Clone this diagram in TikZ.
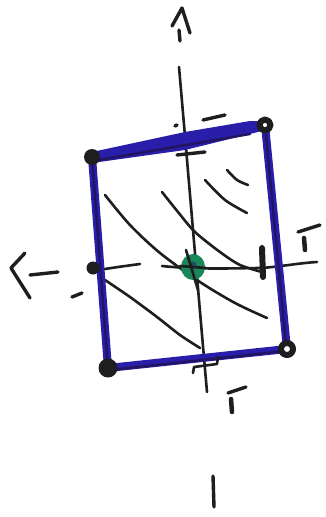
\documentclass[tikz,border=0pt]{standalone}
\begin{document}
\begin{tikzpicture}[x=1pt,y=-1pt,line cap=round,line join=round]
\definecolor{pen}{RGB}{30,30,30}
\definecolor{mblue}{RGB}{40,30,170}
\definecolor{mnavy}{RGB}{35,20,95}
\definecolor{mgreen}{RGB}{25,135,90}
\tikzset{
  penline/.style={draw=pen,line width=2.6pt},
  thickpen/.style={draw=pen,line width=3.4pt},
  blueedge/.style={draw=mblue,line width=8pt},
  bluecore/.style={draw=mnavy,line width=2.4pt},
  cornerdot/.style={fill=pen},
  ringdot/.style={draw=pen,line width=6pt,fill=white}
}
\fill[white] (0,0) rectangle (326,517);
\useasboundingbox (0,0) rectangle (326,517);
% corners
\coordinate (tl) at (92,157);
\coordinate (tr) at (265,125);
\coordinate (br) at (287,349);
\coordinate (bl) at (108,368);
\coordinate (lm) at (93,268);
% vertical axis
\draw[penline] (179,67) .. controls (188,170) and (198,290) .. (207,392);
% horizontal axis
\draw[penline] (93,271) .. controls (110,268) and (125,266) .. (140,264);
\draw[penline] (162,266) .. controls (200,270) and (240,268) .. (262,268) .. controls (285,266) and (300,263) .. (317,262);
% hatching curves
\draw[penline] plot[smooth] coordinates {(105,195) (130,225) (160,253) (200,282) (235,303) (267,318)};
\draw[penline] plot[smooth] coordinates {(162,192) (178,212) (195,232) (220,252) (240,265) (262,272)};
\draw[penline] plot[smooth] coordinates {(205,180) (225,200) (247,213)};
\draw[penline] plot[smooth] coordinates {(227,170) (237,180) (248,185)};
\draw[penline] plot[smooth] coordinates {(105,280) (130,297) (157,317) (180,335) (200,348)};
% blue rectangle
\fill[mblue] (92,152) -- (185,132) -- (250,121) -- (262,121) -- (262,131) -- (185,150) -- (92,163) -- cycle;
\draw[blueedge] (tr) -- (br);
\draw[blueedge] (br) -- (bl);
\draw[blueedge] (bl) -- (tl);
\draw[bluecore] (93,161) -- (250,134);
\draw[bluecore] (tl) -- (bl);
\draw[bluecore] (110,370) -- (285,351);
\draw[bluecore] (266,135) -- (286,345);
% green centre
\fill[mgreen] (193,267) ellipse [x radius=12,y radius=13];
\fill[mnavy!50!mgreen] (193,265) circle (3.5);
\draw[penline] (186,250) -- (198,290);
\draw[penline] (180,266) -- (206,268);
% corner dots
\fill[cornerdot] (tl) circle (8);
\fill[cornerdot] (bl) circle (9.5);
\fill[cornerdot] (lm) circle (6.5);
\draw[ringdot] (tr) circle (5.5);
\draw[ringdot] (br) circle (6);
% right edge tick
\draw[draw=pen,line width=6pt] (262,248) -- (263,277);
% top arrow
\draw[thickpen] (172,26) -- (182,8) -- (190,33);
\draw[thickpen] (179,30) -- (180,41);
% top tick marks
\draw[thickpen] (203,120) -- (225,115);
\draw[thickpen] (177,155) -- (205,152);
\draw[thickpen] (175,126) -- (177,125);
% left arrow
\draw[thickpen] (25,253) -- (11,268) -- (30,298);
\draw[thickpen] (30,275) -- (58,272);
\draw[thickpen] (72,297) -- (82,293);
% right T mark
\draw[thickpen] (298,232) -- (320,225);
\draw[draw=pen,line width=4.5pt] (304,238) -- (305,250);
% bottom hook mark
\draw[penline] (193,373) -- (194,367) -- (217,364) -- (218,357);
% bottom T mark
\draw[thickpen] (228,393) -- (246,387);
\draw[draw=pen,line width=4.5pt] (231,399) -- (232,412);
% bottom stroke
\draw[thickpen] (213,476) -- (214,507);
\end{tikzpicture}
\end{document}
